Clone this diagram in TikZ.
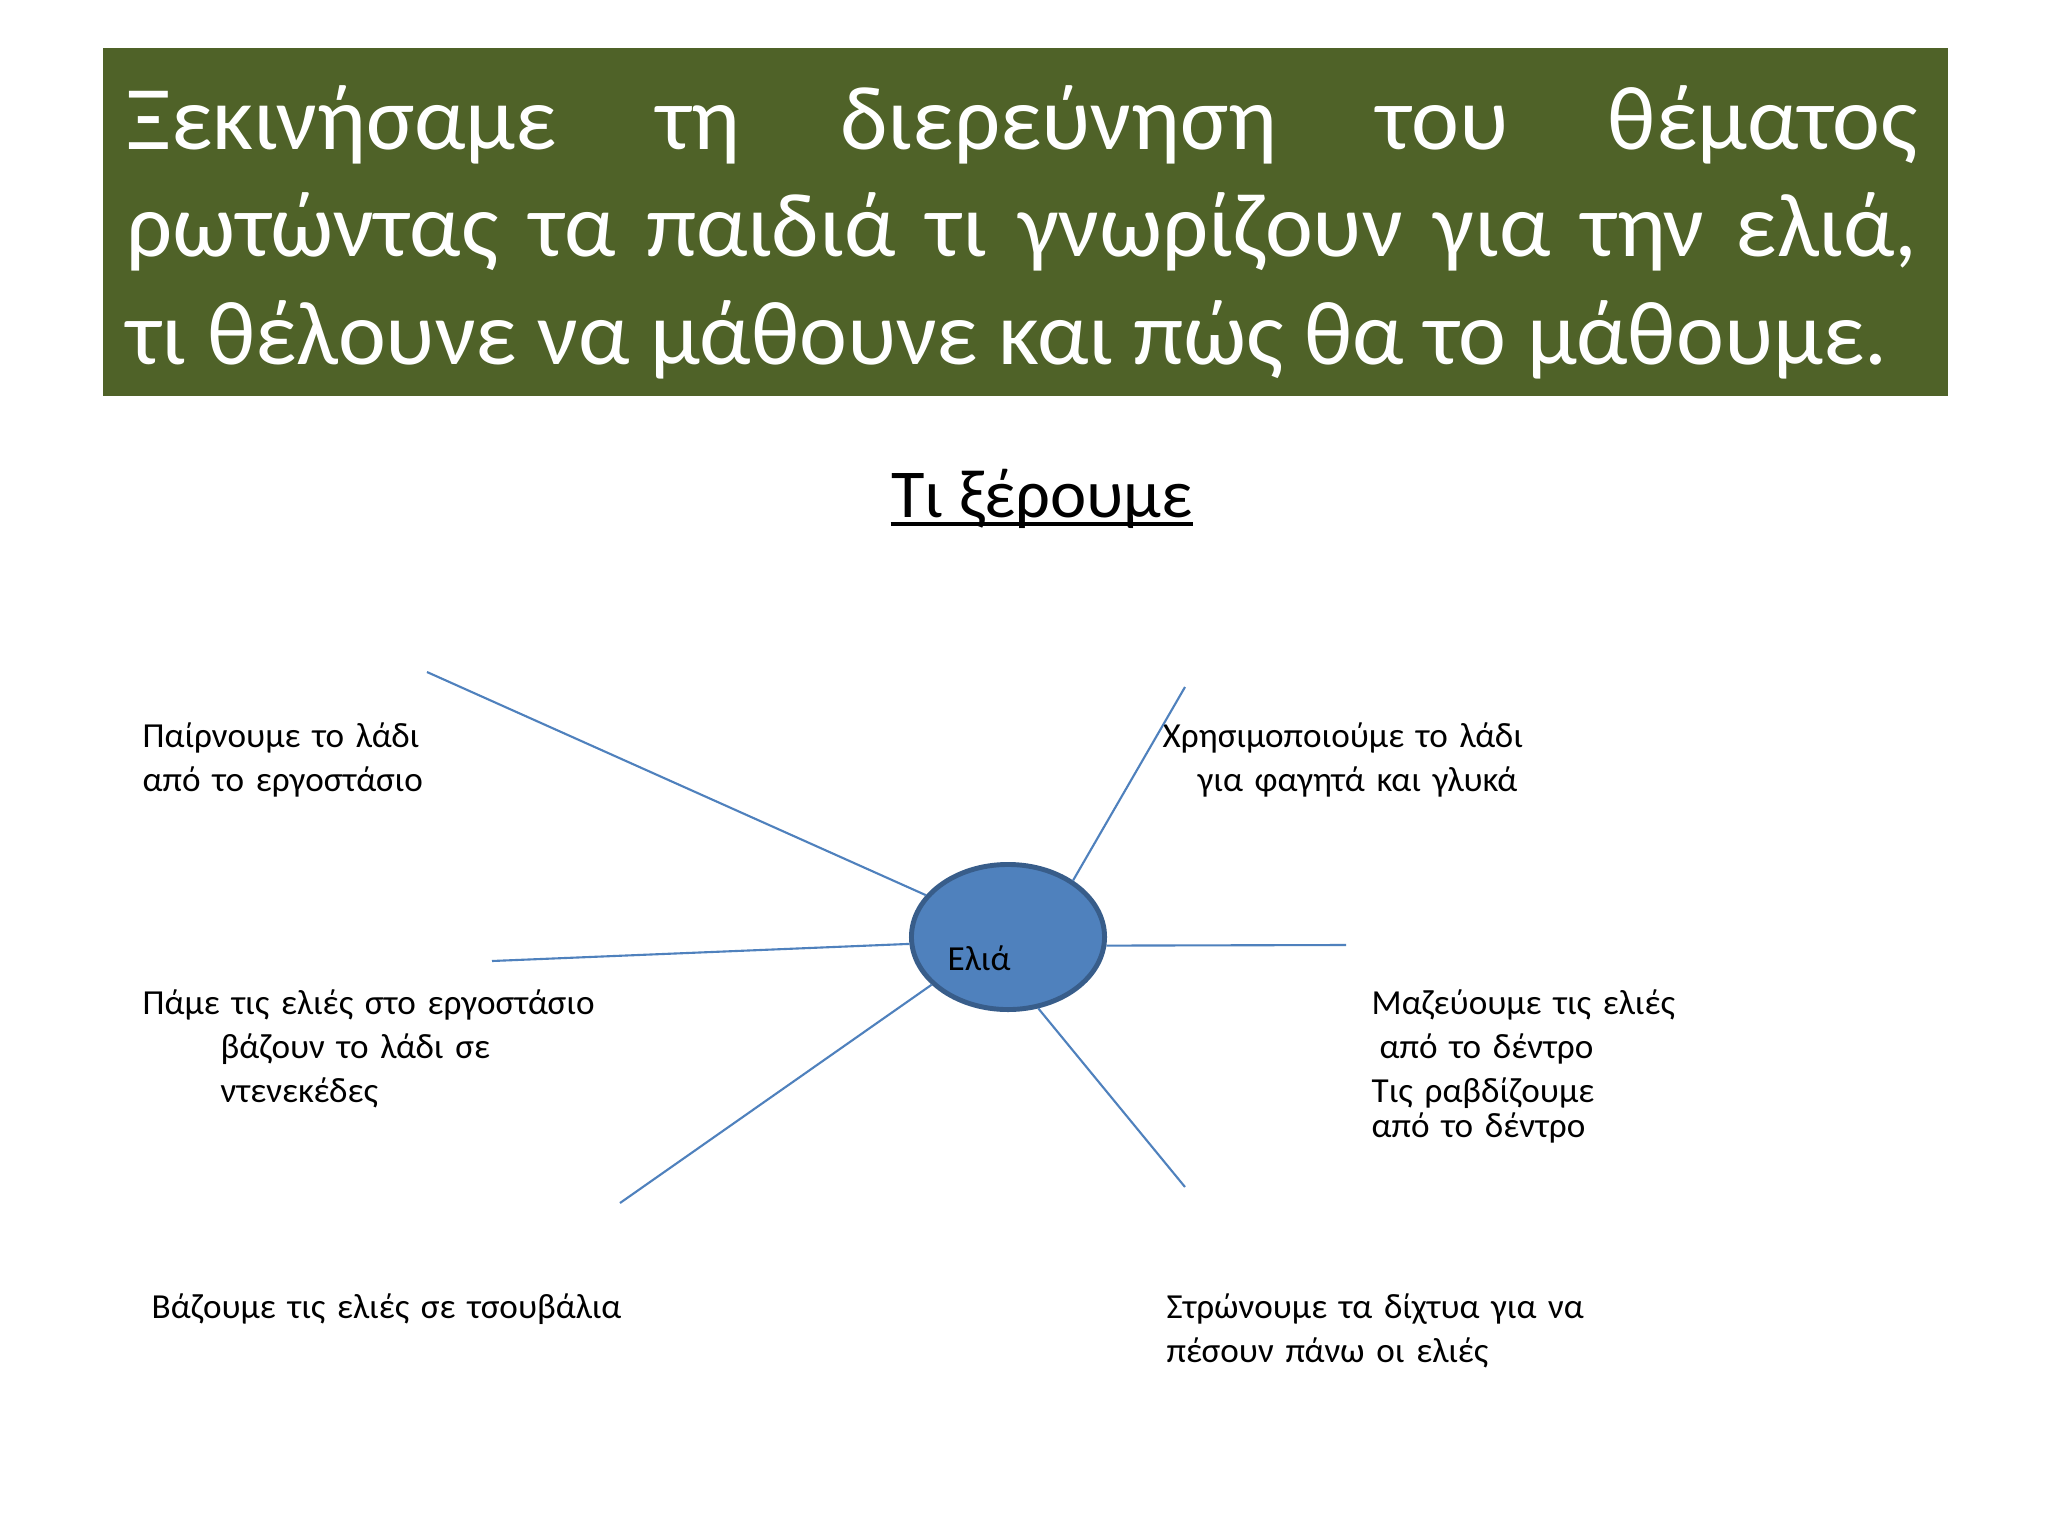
\documentclass[tikz,border=0pt]{standalone}
\usepackage{fontspec}
\setmainfont{Carlito}
\usetikzlibrary{shapes.geometric}

\begin{document}
\begin{tikzpicture}[x=0.01cm, y=-0.01cm]

	\definecolor{my_olive}{RGB}{79,98,40}
\definecolor{my_blue}{RGB}{79,129,189}
\definecolor{my_blue_dark}{RGB}{56,93,138}

\tikzstyle{banner} = [rectangle, fill=my_olive, anchor=north west, minimum width=18.44cm, minimum height=3.48cm, inner sep=0pt]
\tikzstyle{headline} = [anchor=base west, inner sep=0pt, text=white, text width=17.9cm, align=justify, font=\fontsize{25.8}{30.7}\selectfont]
\tikzstyle{fact} = [anchor=base west, inner sep=0pt, text width=6cm, align=left, font=\fontsize{10}{12.6}\selectfont]
\tikzstyle{hub} = [ellipse, draw=my_blue_dark, fill=my_blue, line width=1.4pt, minimum width=1.93cm, minimum height=1.45cm, inner sep=0pt]
\tikzstyle{spoke} = [draw=my_blue, line width=0.6pt]

	\useasboundingbox [fill=white] (0,0) rectangle (2048,1536);

	\node [banner] (banner) at (102,47) {};
	\node [headline] (question) at (126,149) {Ξεκινήσαμε τη διερεύνηση του θέματος\linebreak ρωτώντας τα παιδιά τι γνωρίζουν για την ελιά,\linebreak τι θέλουνε να μάθουνε και πώς θα το μάθουμε.};

	\node [anchor=base, inner sep=0pt, font=\fontsize{19.5}{24}\selectfont] (title) at (1042,517) {Τι ξέρουμε};
	\draw [line width=1.1pt] ([yshift=-0.07cm]title.base west) -- ([yshift=-0.07cm]title.base east);

	\node [hub] (elia) at (1008,937) {};
	\node [anchor=base west, inner sep=0pt, font=\fontsize{10}{12}\selectfont] (elia_text) at (947,970) {Ελιά};

	\node [fact] (oil) at (142,747) {Παίρνουμε το λάδι\\από το εργοστάσιο};
	\node [fact] (use) at (1162,747) {Χρησιμοποιούμε το λάδι\\\hspace*{0.35cm}για φαγητά και γλυκά};
	\node [fact] (factory) at (142,1014) {Πάμε τις ελιές στο εργοστάσιο\\\hspace*{0.78cm}βάζουν το λάδι σε\\\hspace*{0.78cm}ντενεκέδες};
	\node [fact] (collect) at (1371,1014) {Μαζεύουμε τις ελιές\\\hspace*{0.08cm}από το δέντρο\\Τις ραβδίζουμε\\[-0.09cm]από το δέντρο};
	\node [fact] (sacks) at (151,1318) {Βάζουμε τις ελιές σε τσουβάλια};
	\node [fact] (nets) at (1166,1318) {Στρώνουμε τα δίχτυα για να\\πέσουν πάνω οι ελιές};

	\coordinate (end_ul) at (427,672);
	\coordinate (end_ur) at (1185,687);
	\coordinate (end_l) at (492,961);
	\coordinate (end_r) at (1346,945);
	\coordinate (end_ll) at (620,1203);
	\coordinate (end_lr) at (1185,1187);

	\path [spoke] (elia.153.7) -- (end_ul);
	\path [spoke] (elia.41.7) -- (end_ur);
	\path [spoke] (elia.184.6) -- (end_l);
	\path [spoke] (elia.355.4) -- (end_r);
	\path [spoke] (elia.212.3) -- (end_ll);
	\path [spoke] (elia.293.7) -- (end_lr);

\end{tikzpicture}
\end{document}
